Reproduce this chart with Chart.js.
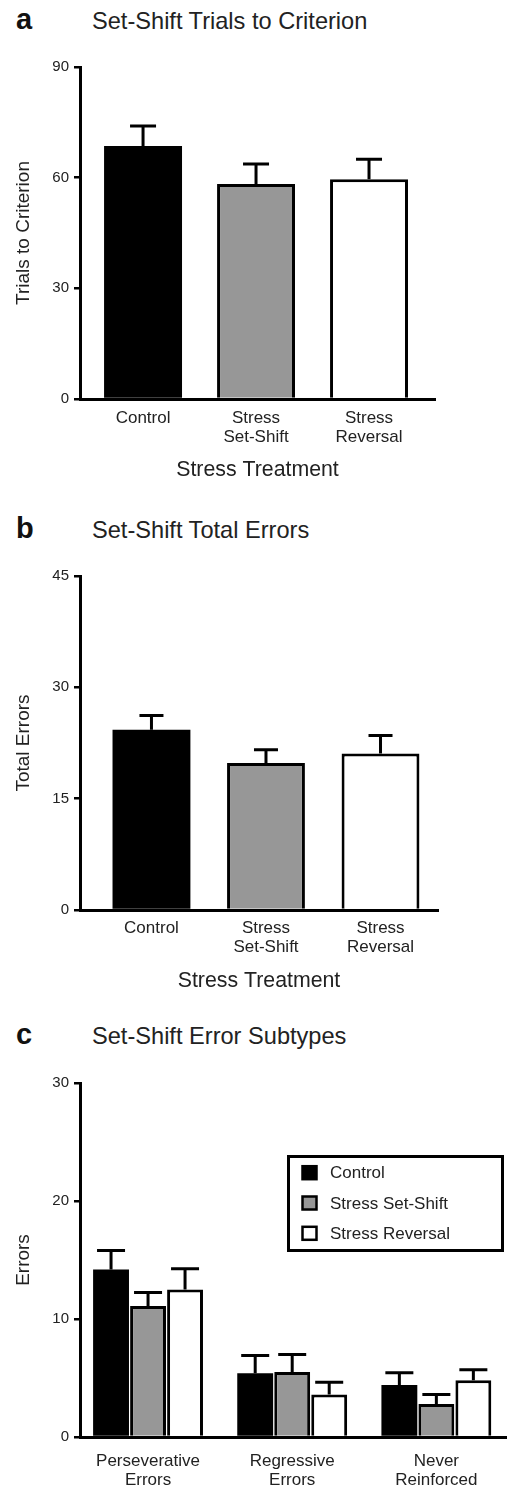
<!DOCTYPE html>
<html>
<head>
<meta charset="utf-8">
<script src="https://cdn.jsdelivr.net/npm/chart.js@4.4.1/dist/chart.umd.min.js"></script>
<style>
  html, body { margin: 0; padding: 0; background: #fff; }
  body { position: relative; width: 507px; height: 1487px; overflow: hidden; font-family: 'Liberation Sans', Arial, sans-serif; color: #222; }
  canvas { position: absolute; left: 0; }
  .letter { position: absolute; font-weight: bold; font-size: 29px; line-height: 29px; color: #111; white-space: nowrap; }
  .title { position: absolute; font-size: 23.6px; line-height: 23.6px; color: #222; white-space: nowrap; }
</style>
</head>
<body>
<div class="letter" style="left:16px; top:5px;">a</div>
<div class="title" style="left:92px; top:10px;">Set-Shift Trials to Criterion</div>
<div class="letter" style="left:16px; top:514px;">b</div>
<div class="title" style="left:92px; top:519px;">Set-Shift Total Errors</div>
<div class="letter" style="left:16px; top:1020px;">c</div>
<div class="title" style="left:92px; top:1025px;">Set-Shift Error Subtypes</div>

<canvas id="chartA" width="507" height="495" style="top:0px;"></canvas>
<canvas id="chartB" width="507" height="500" style="top:495px;"></canvas>
<canvas id="chartC" width="507" height="492" style="top:995px;"></canvas>

<script>
// ---------- DATA ----------
const treatmentLabels = ['Control', ['Stress', 'Set-Shift'], ['Stress', 'Reversal']];
const trialsMean = [68.6, 58.3, 59.6];
const trialsSEM = [5.4, 5.4, 5.4];
const trialsTicks = [0, 30, 60, 90];

const totalErrorsMean = [24.3, 19.8, 21.1];
const totalErrorsSEM = [1.9, 1.8, 2.4];
const totalErrorsTicks = [0, 15, 30, 45];

const subtypeLabels = [['Perseverative', 'Errors'], ['Regressive', 'Errors'], ['Never', 'Reinforced']];
const seriesNames = ['Control', 'Stress Set-Shift', 'Stress Reversal'];
const controlErrors = [14.2, 5.4, 4.4];
const controlSEM = [1.6, 1.5, 1.05];
const setShiftErrors = [11.1, 5.5, 2.8];
const setShiftSEM = [1.15, 1.5, 0.8];
const reversalErrors = [12.5, 3.6, 4.8];
const reversalSEM = [1.75, 1.05, 0.9];
const subtypeTicks = [0, 10, 20, 30];

// ---------- STYLE ----------
const FONT = "'Liberation Sans', Arial, sans-serif";
const seriesFill = ['#000000', '#979797', '#ffffff'];
const seriesBorder = [0, 3, 3];
Chart.defaults.font.family = FONT;
Chart.defaults.color = '#222';

function toPoints(values) { return values.map((v, i) => ({ x: i, y: v })); }

const errorBarPlugin = {
  id: 'errorBars',
  afterDatasetsDraw(chart, args, opts) {
    const ctx = chart.ctx;
    const yScale = chart.scales.y;
    ctx.save();
    ctx.strokeStyle = '#000';
    ctx.lineWidth = opts.lineWidth || 3;
    chart.data.datasets.forEach((ds, i) => {
      const meta = chart.getDatasetMeta(i);
      meta.data.forEach((el, j) => {
        const err = ds.errors[j];
        const v = meta.controller.getParsed(j).y;
        const x = el.x;
        const yTop = el.y;
        const yCap = yScale.getPixelForValue(v + err);
        const hw = (opts.capWidth || 26) / 2;
        ctx.beginPath();
        ctx.moveTo(x, yTop);
        ctx.lineTo(x, yCap);
        ctx.moveTo(x - hw, yCap);
        ctx.lineTo(x + hw, yCap);
        ctx.stroke();
      });
    });
    ctx.restore();
  }
};

const boxLegendPlugin = {
  id: 'boxLegend',
  afterDraw(chart, args, opts) {
    if (!opts.show) return;
    const ctx = chart.ctx;
    ctx.save();
    ctx.strokeStyle = '#000';
    ctx.lineWidth = 3;
    ctx.strokeRect(opts.x, opts.y, opts.w, opts.h);
    ctx.font = '17px ' + FONT;
    ctx.textBaseline = 'middle';
    ctx.textAlign = 'left';
    chart.data.datasets.forEach((ds, i) => {
      const cy = opts.firstY + i * opts.gap;
      ctx.fillStyle = ds.backgroundColor;
      ctx.fillRect(opts.x + 14, cy - 6.5, 14, 13);
      ctx.lineWidth = 2.5;
      ctx.strokeRect(opts.x + 14, cy - 6.5, 14, 13);
      ctx.fillStyle = '#222';
      ctx.fillText(ds.label, opts.x + 41.5, cy + 1);
    });
    ctx.restore();
  }
};

function makeChart(id, cfg) {
  return new Chart(document.getElementById(id), {
    type: 'bar',
    data: { datasets: cfg.datasets },
    plugins: [errorBarPlugin, boxLegendPlugin],
    options: {
      responsive: false,
      animation: false,
      events: [],
      layout: { padding: { top: cfg.padTop, right: cfg.padRight, left: 0, bottom: 0 } },
      plugins: {
        legend: { display: false },
        tooltip: { enabled: false },
        errorBars: { capWidth: cfg.capWidth, lineWidth: 3 },
        boxLegend: cfg.legend || { show: false }
      },
      scales: {
        x: {
          type: 'linear',
          min: cfg.xMin,
          max: cfg.xMax,
          offset: false,
          afterBuildTicks(scale) { scale.ticks = cfg.labels.map((l, i) => ({ value: i })); },
          grid: { display: true, drawOnChartArea: false, drawTicks: false },
          border: { display: true, color: '#000', width: 3 },
          ticks: {
            font: { size: 17, lineHeight: 1.12 }, color: '#222', padding: cfg.xTickPad,
            maxRotation: 0, autoSkip: false,
            callback: (v) => cfg.labels[v]
          },
          title: cfg.xTitle ? { display: true, text: cfg.xTitle, font: { size: 21.3 }, color: '#222', padding: { top: 0, bottom: cfg.xTitlePad } } : { display: false },
          afterFit(scale) { scale.height = cfg.xHeight; }
        },
        y: {
          min: cfg.ticks[0],
          max: cfg.ticks[cfg.ticks.length - 1],
          afterBuildTicks(scale) { scale.ticks = cfg.ticks.map(v => ({ value: v })); },
          grid: { display: true, drawOnChartArea: false, drawTicks: true, tickLength: 6, color: '#000', lineWidth: 2.5 },
          border: { display: true, color: '#000', width: 3 },
          ticks: { font: { size: 15 }, color: '#222', padding: 5 },
          title: { display: true, text: cfg.yTitle, font: { size: 19 }, color: '#222', padding: { top: 12.6, bottom: 0 } },
          afterFit(scale) { scale.width = 80; }
        }
      }
    }
  });
}

// Panel a
makeChart('chartA', {
  labels: treatmentLabels,
  datasets: [{
    label: 'Trials to Criterion',
    data: toPoints(trialsMean),
    errors: trialsSEM,
    backgroundColor: seriesFill,
    borderColor: '#000',
    borderWidth: seriesBorder,
    barPercentage: 0.69,
    categoryPercentage: 1.0
  }],
  xMin: -0.558, xMax: 2.584,
  padTop: 67, padRight: 72, xHeight: 96, xTickPad: 9.5,
  xTitle: 'Stress Treatment', xTitlePad: 12.4,
  yTitle: 'Trials to Criterion', ticks: trialsTicks, capWidth: 26
});

// Panel b
makeChart('chartB', {
  labels: treatmentLabels,
  datasets: [{
    label: 'Total Errors',
    data: toPoints(totalErrorsMean),
    errors: totalErrorsSEM,
    backgroundColor: seriesFill,
    borderColor: '#000',
    borderWidth: seriesBorder,
    barPercentage: 0.68,
    categoryPercentage: 1.0
  }],
  xMin: -0.624, xMax: 2.502,
  padTop: 81, padRight: 69, xHeight: 85, xTickPad: 8.5,
  xTitle: 'Stress Treatment', xTitlePad: 0.7,
  yTitle: 'Total Errors', ticks: totalErrorsTicks, capWidth: 24
});

// Panel c
const subtypeSeries = [controlErrors, setShiftErrors, reversalErrors];
const subtypeSEM = [controlSEM, setShiftSEM, reversalSEM];
makeChart('chartC', {
  labels: subtypeLabels,
  datasets: seriesNames.map((name, i) => ({
    label: name,
    data: toPoints(subtypeSeries[i]),
    errors: subtypeSEM[i],
    backgroundColor: seriesFill[i],
    borderColor: '#000',
    borderWidth: seriesBorder[i],
    barPercentage: 0.97,
    categoryPercentage: 0.77
  })),
  xMin: -0.472, xMax: 2.49,
  padTop: 88, padRight: 0, xHeight: 50, xTickPad: 15.2,
  xTitle: null, xTitlePad: 0,
  yTitle: 'Errors', ticks: subtypeTicks, capWidth: 28,
  legend: { show: true, x: 288.5, y: 161.5, w: 214, h: 94, firstY: 177.7, gap: 30.3 }
});
</script>
</body>
</html>
